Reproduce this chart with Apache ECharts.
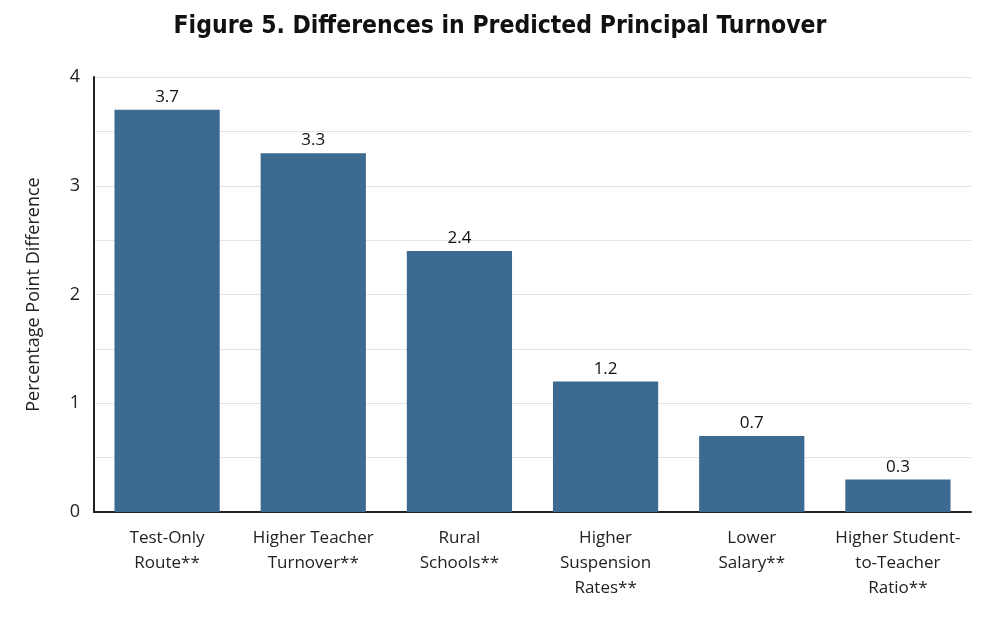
<!DOCTYPE html>
<html>
<head>
<meta charset="utf-8">
<script src="https://cdn.jsdelivr.net/npm/echarts@6/dist/echarts.min.js"></script>
<style>
  html, body { margin: 0; padding: 0; background: #fff; }
  #chart { width: 1000px; height: 619px; }
</style>
</head>
<body>
<div id="chart"></div>
<script>
const categories = [
  'Test-Only\nRoute**',
  'Higher Teacher\nTurnover**',
  'Rural\nSchools**',
  'Higher\nSuspension\nRates**',
  'Lower\nSalary**',
  'Higher Student-\nto-Teacher\nRatio**'
];
const values = [3.7, 3.3, 2.4, 1.2, 0.7, 0.3];
const yTicks = [0, 1, 2, 3, 4];

const chart = echarts.init(document.getElementById('chart'));
chart.setOption({
  animation: false,
  title: {
    text: 'Figure 5. Differences in Predicted Principal Turnover',
    left: 'center',
    top: 9,
    textStyle: {
      fontFamily: 'DejaVu Sans Condensed',
      fontWeight: 'bold',
      fontSize: 24.5,
      color: '#111'
    }
  },
  grid: { left: 94, right: 29, top: 77, bottom: 107 },
  xAxis: {
    type: 'category',
    data: categories,
    axisLine: { lineStyle: { color: '#222', width: 2 } },
    axisTick: { show: false },
    axisLabel: {
      interval: 0,
      margin: 14,
      fontFamily: 'Open Sans',
      fontSize: 17,
      lineHeight: 25,
      color: '#222'
    }
  },
  yAxis: {
    type: 'value',
    min: 0,
    max: 4,
    interval: 0.5,
    name: 'Percentage Point Difference',
    nameLocation: 'middle',
    nameGap: 51,
    nameTextStyle: { fontFamily: 'Open Sans', fontSize: 18, color: '#222' },
    axisLine: { show: true, lineStyle: { color: '#222', width: 2 } },
    axisTick: { show: false },
    splitLine: { lineStyle: { color: '#e3e3e3', width: 1 } },
    axisLabel: {
      margin: 14,
      fontFamily: 'Open Sans',
      fontSize: 18,
      color: '#222',
      formatter: v => (yTicks.includes(v) ? String(v) : '')
    }
  },
  series: [{
    type: 'bar',
    data: values,
    barWidth: '72%',
    itemStyle: { color: '#3d6a91' },
    label: {
      show: true,
      position: 'top',
      distance: 4,
      fontFamily: 'Open Sans',
      fontSize: 17,
      color: '#111',
      formatter: p => p.value.toFixed(1)
    }
  }]
});
</script>
</body>
</html>
